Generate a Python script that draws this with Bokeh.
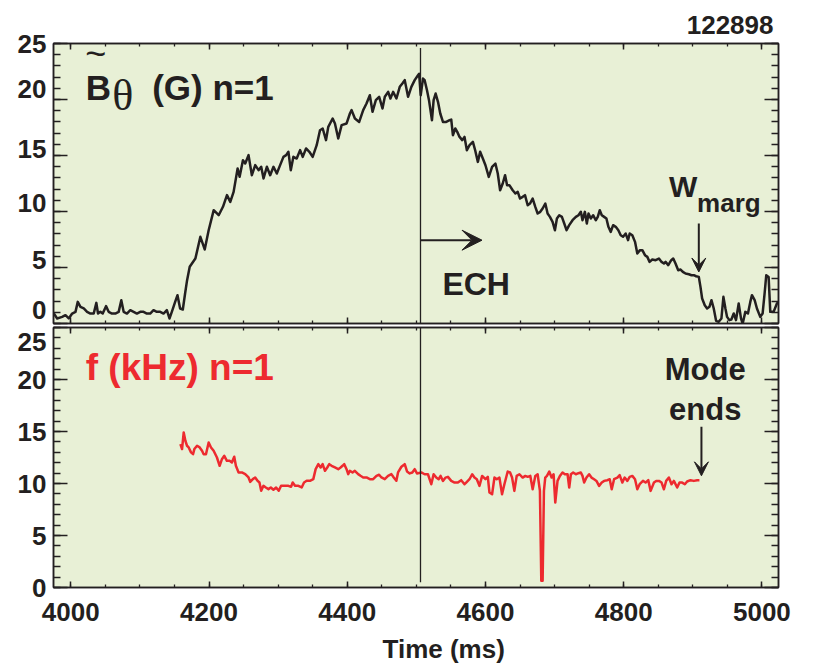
from bokeh.plotting import figure
from bokeh.layouts import column
from bokeh.models import LinearAxis, Range1d, FixedTicker, Label, Arrow, VeeHead, Title
from bokeh.embed import file_html
from bokeh.resources import INLINE

# ---------------- data ----------------
shot_number = "122898"
x_ticks = [4000, 4200, 4400, 4600, 4800, 5000]
y_ticks = [0, 5, 10, 15, 20, 25]
ech_time = 4506.0

# B_theta amplitude, n=1 (G)
b_time = [3975.5, 3980.3, 3987.5, 3992.3, 3997.1, 4002.0, 4006.8, 4010.1, 4014.0, 4018.8,
          4023.6, 4028.4, 4033.2, 4037.0, 4039.4, 4042.8, 4046.2, 4051.0, 4054.8, 4059.6,
          4064.4, 4069.3, 4073.1, 4076.5, 4081.3, 4086.1, 4090.9, 4095.7, 4100.5, 4105.3,
          4110.1, 4114.9, 4119.7, 4124.5, 4129.4, 4134.2, 4139.0, 4142.8, 4146.2, 4151.0,
          4154.4, 4158.2, 4162.1, 4165.4, 4168.3, 4172.1, 4180.3, 4187.5, 4193.8, 4199.5,
          4206.8, 4214.0, 4220.2, 4226.0, 4230.8, 4235.6, 4241.4, 4244.3, 4249.1, 4252.4,
          4257.2, 4262.0, 4266.9, 4271.7, 4275.5, 4278.9, 4283.7, 4288.5, 4293.3, 4298.1,
          4302.9, 4307.7, 4311.6, 4314.9, 4318.3, 4322.1, 4326.9, 4331.8, 4335.6, 4340.4,
          4345.2, 4350.0, 4355.8, 4360.6, 4364.5, 4369.3, 4372.6, 4378.9, 4382.2, 4387.0,
          4391.9, 4399.1, 4403.9, 4406.3, 4411.1, 4417.3, 4423.1, 4427.9, 4432.7, 4436.6,
          4441.4, 4446.2, 4451.0, 4454.4, 4459.2, 4462.5, 4466.4, 4471.2, 4476.0, 4479.8,
          4483.2, 4488.0, 4492.8, 4497.6, 4502.4, 4504.0, 4506.3, 4509.6, 4512.0, 4515.4,
          4518.3, 4522.6, 4525.0, 4527.9, 4531.3, 4534.6, 4538.5, 4543.3, 4548.1, 4550.5,
          4552.9, 4556.3, 4559.2, 4562.5, 4566.4, 4569.7, 4573.1, 4577.0, 4581.8, 4585.1,
          4589.0, 4592.3, 4596.2, 4600.0, 4604.8, 4609.6, 4614.4, 4617.8, 4621.2, 4625.0,
          4628.4, 4631.3, 4634.6, 4639.4, 4643.3, 4646.7, 4650.0, 4653.9, 4657.2, 4661.1,
          4664.4, 4668.3, 4672.1, 4675.5, 4679.3, 4682.7, 4686.6, 4689.9, 4693.3, 4697.1,
          4700.5, 4703.4, 4706.8, 4710.6, 4714.0, 4717.3, 4721.2, 4726.0, 4730.8, 4734.6,
          4738.0, 4740.4, 4743.8, 4746.7, 4749.1, 4752.4, 4755.8, 4759.6, 4762.5, 4765.4,
          4768.3, 4771.7, 4775.0, 4777.9, 4781.3, 4784.7, 4788.5, 4792.3, 4795.7, 4799.1,
          4802.9, 4806.3, 4808.7, 4812.5, 4816.4, 4819.7, 4823.6, 4827.0, 4830.8, 4834.2,
          4837.5, 4841.4, 4846.2, 4851.0, 4854.8, 4858.2, 4860.6, 4864.5, 4868.8, 4871.7,
          4875.0, 4878.9, 4882.3, 4885.6, 4889.5, 4894.3, 4898.1, 4901.5, 4904.8, 4908.7,
          4911.1, 4913.5, 4917.3, 4920.7, 4924.1, 4927.0, 4930.3, 4933.7, 4937.5, 4941.4,
          4944.3, 4947.2, 4949.6, 4952.9, 4955.8, 4959.2, 4962.5, 4966.4, 4969.8, 4972.2,
          4976.0, 4979.8, 4983.2, 4985.6, 4989.5, 4992.8, 4997.6, 5001.0, 5003.9, 5006.3,
          5009.7, 5012.1, 5016.9, 5021.7, 5024.0]
b_amp = [0.89, 0.45, 0.59, 0.74, 0.45, 0.89, 1.04, 1.93, 1.48, 1.34,
         1.04, 0.89, 0.89, 1.84, 0.89, 1.04, 0.89, 1.55, 1.04, 0.89,
         0.89, 1.04, 2.08, 1.04, 0.89, 1.19, 1.04, 0.89, 1.04, 1.04,
         0.89, 0.89, 1.19, 1.04, 1.04, 0.89, 1.19, 0.45, 1.04, 1.93,
         2.53, 1.34, 1.25, 2.68, 3.87, 5.06, 5.80, 7.74, 6.61, 8.33,
         10.12, 9.67, 10.42, 11.46, 10.86, 11.75, 13.84, 13.10, 14.58, 14.29,
         15.03, 13.24, 14.14, 13.69, 13.99, 12.95, 13.99, 13.24, 13.99, 13.39,
         14.14, 14.88, 15.03, 15.33, 13.69, 14.88, 14.73, 15.48, 14.88, 15.63,
         15.33, 14.88, 15.92, 17.26, 17.41, 16.37, 17.56, 18.30, 17.86, 16.52,
         17.71, 17.86, 18.75, 19.05, 18.30, 18.00, 19.05, 19.64, 20.38, 18.90,
         19.94, 20.24, 19.20, 20.24, 20.68, 20.09, 20.68, 20.09, 21.13, 21.43,
         21.73, 20.24, 21.13, 21.73, 22.17, 22.30, 20.38, 21.87, 21.72, 20.83,
         19.94, 18.15, 19.94, 20.53, 19.79, 18.75, 18.00, 18.00, 18.15, 18.21,
         16.81, 17.41, 17.11, 16.66, 16.37, 16.66, 15.47, 15.92, 16.22, 15.47,
         14.43, 15.33, 14.73, 14.13, 13.09, 13.99, 14.28, 13.39, 11.90, 12.50,
         13.24, 12.35, 12.35, 11.90, 11.61, 11.75, 11.16, 11.31, 11.46, 10.56,
         10.71, 11.16, 10.41, 9.82, 9.97, 10.27, 10.71, 9.82, 9.52, 9.08,
         8.33, 9.37, 9.67, 9.52, 8.93, 8.33, 8.78, 9.22, 9.52, 9.67,
         9.97, 9.22, 9.97, 8.93, 9.82, 9.37, 9.67, 9.22, 9.52, 10.12,
         9.67, 9.52, 9.37, 8.63, 8.18, 8.78, 8.63, 8.33, 7.88, 7.74,
         8.03, 7.44, 8.03, 7.88, 7.29, 6.25, 6.55, 6.55, 6.10, 5.95,
         5.50, 5.71, 5.65, 5.80, 5.50, 5.36, 5.50, 5.21, 5.65, 5.80,
         5.36, 4.76, 4.82, 4.61, 4.46, 4.40, 4.31, 4.31, 4.22, 4.16,
         3.27, 2.23, 1.63, 1.34, 1.49, 2.08, 1.34, 0.24, 0.15, 0.44,
         2.38, 1.34, 0.59, 0.30, 0.36, 0.89, 0.30, 1.78, 0.44, 0.00,
         1.04, 0.89, 1.93, 2.53, 2.08, 1.34, 0.59, 0.89, 2.68, 4.31,
         4.16, 1.04, 1.04, 1.78, 1.90]

# Mode frequency, n=1 (kHz)
f_time = [4158.6, 4161.0, 4163.4, 4165.8, 4168.2, 4170.6, 4174.0, 4176.9, 4178.8, 4182.7,
          4186.5, 4189.9, 4192.3, 4195.6, 4199.5, 4202.9, 4206.7, 4211.5, 4215.4, 4218.7,
          4222.1, 4225.9, 4229.8, 4233.1, 4236.5, 4238.9, 4242.8, 4247.6, 4252.4, 4257.2,
          4259.6, 4263.4, 4266.8, 4270.2, 4273.0, 4275.5, 4278.8, 4282.2, 4286.0, 4289.4,
          4293.2, 4297.1, 4300.9, 4304.3, 4310.1, 4314.9, 4318.7, 4321.1, 4324.5, 4329.3,
          4334.1, 4337.5, 4341.3, 4346.1, 4350.9, 4354.3, 4358.2, 4361.5, 4364.4, 4367.8,
          4371.1, 4374.0, 4377.4, 4382.2, 4387.0, 4390.4, 4393.2, 4395.7, 4399.0, 4401.4,
          4403.8, 4407.7, 4411.0, 4415.8, 4419.2, 4423.1, 4427.9, 4432.7, 4437.5, 4442.3,
          4446.1, 4449.5, 4454.3, 4459.1, 4463.9, 4467.3, 4471.1, 4473.5, 4478.4, 4483.2,
          4486.5, 4490.4, 4494.2, 4497.6, 4500.9, 4507.2, 4512.0, 4516.8, 4521.6, 4525.0,
          4528.8, 4532.2, 4535.1, 4538.5, 4542.3, 4545.7, 4550.5, 4555.3, 4560.1, 4564.9,
          4569.7, 4572.1, 4576.9, 4580.8, 4584.1, 4587.5, 4591.3, 4595.2, 4600.0, 4603.4,
          4605.8, 4609.6, 4613.0, 4616.3, 4620.2, 4624.0, 4627.4, 4632.2, 4635.6, 4638.5,
          4641.8, 4645.2, 4649.2, 4653.8, 4657.7, 4661.1, 4664.9, 4668.3, 4672.1, 4675.5,
          4678.8, 4680.8, 4682.7, 4684.6, 4686.5, 4689.0, 4692.3, 4695.7, 4698.6, 4701.0,
          4704.3, 4707.7, 4711.5, 4714.9, 4718.8, 4721.2, 4723.6, 4726.9, 4730.8, 4734.6,
          4738.0, 4740.4, 4742.8, 4746.2, 4750.0, 4753.4, 4757.2, 4760.6, 4764.4, 4768.3,
          4771.6, 4776.4, 4779.8, 4782.7, 4786.1, 4790.9, 4794.2, 4798.1, 4801.4, 4805.3,
          4808.7, 4812.5, 4816.4, 4819.7, 4823.1, 4827.9, 4831.7, 4835.6, 4839.0, 4843.8,
          4847.1, 4851.0, 4854.8, 4858.2, 4861.5, 4865.4, 4869.2, 4872.6, 4877.4, 4880.8,
          4884.6, 4888.5, 4891.8, 4896.7, 4901.5, 4906.3, 4909.6]
f_khz = [13.79, 13.31, 14.91, 14.11, 13.63, 13.47, 12.99, 12.82, 13.31, 13.63,
         13.47, 13.15, 12.82, 12.82, 13.95, 13.47, 13.15, 12.50, 11.70, 12.34,
         12.66, 12.18, 12.18, 12.02, 12.57, 11.70, 11.06, 11.06, 10.90, 10.58,
         10.16, 10.42, 10.58, 10.26, 10.10, 9.30, 9.78, 9.62, 9.46, 9.62,
         9.40, 9.62, 9.30, 9.78, 9.78, 9.78, 9.68, 10.10, 9.78, 9.78,
         9.62, 10.10, 10.26, 10.26, 10.42, 11.38, 11.86, 11.54, 11.86, 11.22,
         11.54, 11.86, 11.70, 11.54, 11.38, 11.54, 11.70, 11.86, 11.38, 10.90,
         11.22, 11.06, 11.22, 10.90, 10.74, 10.58, 10.58, 10.42, 10.42, 10.74,
         10.84, 10.58, 10.42, 10.74, 10.90, 10.58, 10.26, 11.06, 11.61, 11.86,
         11.16, 10.97, 11.06, 11.38, 10.97, 11.06, 10.89, 10.89, 9.93, 10.89,
         10.57, 10.41, 10.73, 10.25, 10.57, 10.64, 10.25, 10.09, 10.09, 10.32,
         9.93, 10.09, 10.41, 10.89, 10.57, 10.41, 9.77, 10.73, 10.41, 10.64,
         9.13, 8.97, 10.57, 10.41, 10.57, 8.97, 9.93, 11.15, 11.06, 10.57,
         9.29, 10.73, 10.89, 10.57, 10.73, 10.64, 10.73, 9.45, 10.73, 10.89,
         9.29, 0.64, 0.64, 9.29, 10.57, 10.73, 11.15, 10.57, 10.89, 8.17,
         10.25, 10.73, 11.06, 10.89, 10.89, 9.61, 10.89, 11.06, 10.89, 10.99,
         11.06, 10.73, 10.09, 10.57, 10.89, 10.57, 10.41, 10.25, 9.77, 10.09,
         10.25, 10.32, 10.41, 9.45, 10.41, 10.57, 10.80, 10.09, 10.57, 10.25,
         10.64, 10.73, 10.41, 9.45, 9.93, 10.25, 10.09, 10.32, 9.29, 10.09,
         10.25, 10.25, 10.09, 9.45, 10.25, 10.57, 9.93, 10.25, 9.61, 10.09,
         10.09, 9.93, 10.19, 10.32, 10.25, 10.32, 10.32]

# ---------------- style ----------------
FONT = "Liberation Sans"
INK = "#231f20"
RED = "#ed2a2f"
BG = "#e8f0d6"

x_minor = list(range(3950, 5051, 50))
y_minor = list(range(0, 26))
# where the y tick labels sit (upper panel: just above their ticks, as in the original)
top_label_pos = [1.2, 5.7, 10.75, 15.6, 20.9, 25.0]
bottom_label_pos = [0, 5, 10, 15, 20, 23.6]


def tick_axis(ticks, minor, major_len, minor_len):
    ax = LinearAxis()
    ax.ticker = FixedTicker(ticks=ticks, minor_ticks=minor)
    ax.major_tick_in = major_len
    ax.major_tick_out = 0
    ax.minor_tick_in = minor_len
    ax.minor_tick_out = 0
    ax.axis_line_color = INK
    ax.axis_line_width = 1.5
    ax.major_tick_line_color = INK
    ax.major_tick_line_width = 1.5
    ax.minor_tick_line_color = INK
    ax.minor_tick_line_width = 1.3
    ax.major_label_text_color = None
    ax.major_label_standoff = 0
    return ax


def label_axis(positions, texts):
    # tick labels only (no tick marks), so that they can sit where the original shows them
    ax = LinearAxis()
    ax.ticker = FixedTicker(ticks=positions, minor_ticks=[])
    ax.major_label_overrides = {p: t for p, t in zip(positions, texts)}
    ax.axis_line_color = None
    ax.major_tick_line_color = None
    ax.minor_tick_line_color = None
    ax.major_tick_in = 0
    ax.major_tick_out = 0
    ax.minor_tick_in = 0
    ax.minor_tick_out = 0
    ax.major_label_standoff = 7
    ax.major_label_text_font = FONT
    ax.major_label_text_font_style = "bold"
    ax.major_label_text_font_size = "26px"
    ax.major_label_text_color = INK
    return ax


def make_panel(xr, frame_h, top_b, bot_b, label_pos):
    p = figure(frame_width=725, frame_height=frame_h, x_range=xr, y_range=Range1d(0, 25),
               x_axis_type=None, y_axis_type=None, output_backend="svg",
               toolbar_location=None)
    p.min_border_left = 53
    p.min_border_right = 36
    p.min_border_top = top_b
    p.min_border_bottom = bot_b
    p.background_fill_color = BG
    p.border_fill_color = "white"
    p.outline_line_color = INK
    p.outline_line_width = 1.5

    p.add_layout(tick_axis(y_ticks, y_minor, 14, 7), "left")
    p.add_layout(label_axis(label_pos, [str(v) for v in y_ticks]), "left")
    p.add_layout(tick_axis(y_ticks, y_minor, 14, 7), "right")
    p.add_layout(tick_axis(x_ticks, x_minor, 6, 3), "above")
    bottom = tick_axis(x_ticks, x_minor, 6, 3)
    p.add_layout(bottom, "below")
    return p, bottom


xr = Range1d(3975, 5024)
p1, _ = make_panel(xr, 280, 43, 2, top_label_pos)
p2, bottom2 = make_panel(xr, 260, 2, 78, bottom_label_pos)

bottom2.major_label_text_color = INK
bottom2.major_label_text_font = FONT
bottom2.major_label_text_font_style = "bold"
bottom2.major_label_text_font_size = "26px"
bottom2.major_label_standoff = 15

# shot number, top right
p1.title.text = shot_number
p1.title.align = "right"
p1.title.offset = 5
p1.title.standoff = 20
p1.title.text_font = FONT
p1.title.text_font_style = "bold"
p1.title.text_font_size = "26px"
p1.title.text_color = INK

# x axis title
p2.add_layout(Title(text="Time (ms)", align="left", offset=329, text_font=FONT,
                    text_font_style="bold", text_font_size="26px", text_color=INK,
                    standoff=16), "below")


def put(p, x, y, text, size, color=INK, align="left", font=FONT, style="bold"):
    p.add_layout(Label(x=x, y=y, text=text, text_font=font, text_font_style=style,
                       text_font_size=size, text_color=color, text_align=align,
                       text_baseline="middle"))


# ---- top panel ----
p1.line(b_time, b_amp, line_color=INK, line_width=2.5, line_join="round")
p1.segment(x0=[ech_time], y0=[24.6], x1=[ech_time], y1=[0], line_color=INK, line_width=1.3)

put(p1, 4021.6, 21.05, "B", "35px")
put(p1, 4036.0, 24.1, "~", "36px", align="center", style="normal")
put(p1, 4060.1, 20.38, "\u03b8", "44px", font="Liberation Serif", style="normal")
put(p1, 4117.8, 21.05, "(G) n=1", "35px")
put(p1, 4586.6, 3.55, "ECH", "32px", align="center")
p1.add_layout(Arrow(end=VeeHead(size=20, fill_color=INK, line_color=INK),
                    x_start=ech_time, y_start=7.44, x_end=4595, y_end=7.44,
                    line_color=INK, line_width=2))
put(p1, 4865.4, 12.26, "W", "30px")
put(p1, 4906.2, 10.8, "marg", "26px")
p1.add_layout(Arrow(end=VeeHead(size=14, fill_color=INK, line_color=INK),
                    x_start=4908.7, y_start=8.93, x_end=4908.7, y_end=4.6,
                    line_color=INK, line_width=2))

# ---- bottom panel ----
p2.line(f_time, f_khz, line_color=RED, line_width=2.5, line_join="round")
p2.segment(x0=[ech_time], y0=[25], x1=[ech_time], y1=[0.5], line_color=INK, line_width=1.3)
put(p2, 4021.6, 21.14, "f (kHz) n=1", "37px", color=RED)
put(p2, 4918.0, 20.94, "Mode", "31px", align="center")
put(p2, 4918.0, 17.14, "ends", "31px", align="center")
p2.add_layout(Arrow(end=VeeHead(size=14, fill_color=INK, line_color=INK),
                    x_start=4912.5, y_start=15.45, x_end=4912.5, y_end=10.74,
                    line_color=INK, line_width=2))

layout = column(p1, p2, spacing=0)
open("out.html", "w").write(file_html(layout, INLINE))
